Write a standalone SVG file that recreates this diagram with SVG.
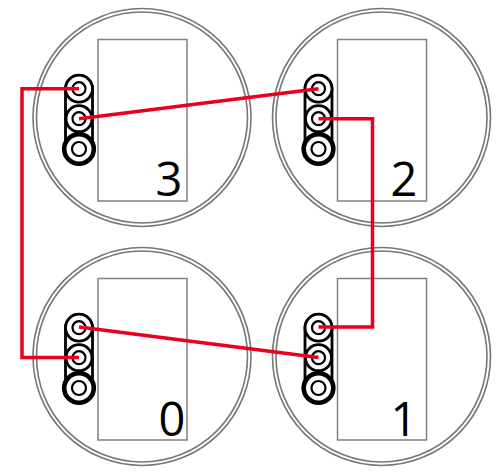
<svg xmlns="http://www.w3.org/2000/svg" width="497" height="472" viewBox="0 0 497 472">
<defs>
<style>
.o{fill:none;stroke:#777;stroke-width:1.6}
.b{fill:#fff;stroke:#808080;stroke-width:1.5}
.k{fill:#fff;stroke:#000;stroke-width:2.800}
.h{fill:#fff;stroke:#000;stroke-width:4.600}
.r{fill:none;stroke:#000;stroke-width:2.200}
.t{font-family:"Open Sans","DejaVu Sans",sans-serif;font-size:47px;fill:#000;text-anchor:middle}
.w{fill:none;stroke:#e8001c;stroke-width:3.500;stroke-linejoin:miter}
</style>
<g id="unit">
<circle class="o" cx="142" cy="117.500" r="109"/>
<circle class="o" cx="142" cy="117.500" r="105.500"/>
<rect class="b" x="98" y="39.500" width="89" height="161.500"/>
<rect class="k" x="65.500" y="75.500" width="27" height="86" rx="13.500"/>
<circle class="k" cx="79" cy="88.700" r="13.500"/>
<circle class="r" cx="79" cy="88.700" r="6.500"/>
<circle class="k" cx="79" cy="118.700" r="13"/>
<circle class="r" cx="79" cy="118.700" r="6.500"/>
<circle class="h" cx="79" cy="149" r="14.800"/>
<circle class="r" cx="79" cy="149" r="7"/>
</g>
</defs>
<g id="node-3"><use href="#unit"/><text class="t" x="169" y="196">3</text></g>
<g id="node-2"><use href="#unit" x="239.500"/><text class="t" x="404" y="196">2</text></g>
<g id="node-0"><use href="#unit" y="239"/><text class="t" x="172" y="436">0</text></g>
<g id="node-1"><use href="#unit" x="239.500" y="239"/><text class="t" x="404" y="436">1</text></g>
<g id="connectors">
<path class="w" d="M79 88.700H22V357.500H79"/>
<path class="w" d="M79 118.700L318.500 88.700"/>
<path class="w" d="M318.500 118.700H372.500V327H318.500"/>
<path class="w" d="M79 327L318.500 357.500"/>
</g>
</svg>
